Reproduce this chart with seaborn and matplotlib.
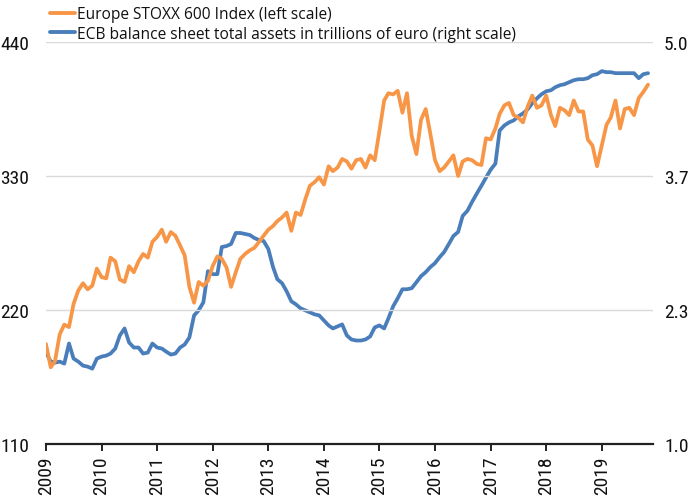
import numpy as np
import pandas as pd
import matplotlib
matplotlib.use("Agg")
import matplotlib.pyplot as plt
import matplotlib.dates as mdates
from matplotlib import font_manager
from matplotlib.lines import Line2D
import seaborn as sns

# Monthly data, Jan 2009 - Nov 2019
start_month = "2009-01-01"
stoxx = [192, 173, 178, 200, 208, 206, 225, 236, 242, 237, 240, 254,
         247, 246, 263, 260, 245, 243, 256, 251, 260, 266, 263, 276,
         280, 286, 276, 284, 281, 273, 265, 239, 226, 243, 240, 244,
         256, 264, 262, 255, 239, 251, 262, 266, 269, 271, 276, 281,
         286, 289, 293, 296, 300, 285, 300, 298, 311, 322, 325, 329,
         323, 338, 334, 337, 344, 342, 336, 343, 344, 337, 347, 343,
         367, 392, 398, 397, 400, 382, 398, 363, 348, 376, 385, 365,
         343, 334, 337, 342, 347, 330, 342, 344, 343, 340, 339, 361,
         360, 369, 381, 388, 390, 380, 378, 374, 387, 396, 386, 388,
         396, 380, 371, 386, 384, 380, 392, 383, 383, 360, 355, 338,
         355, 372, 378, 392, 369, 385, 386, 380, 394, 399, 405]
ecb = [1.91, 1.82, 1.81, 1.82, 1.80, 2.00, 1.85, 1.82, 1.78, 1.77, 1.75, 1.85,
       1.87, 1.88, 1.90, 1.95, 2.08, 2.15, 2.01, 1.96, 1.96, 1.90, 1.91, 2.00,
       1.96, 1.95, 1.92, 1.89, 1.90, 1.96, 1.99, 2.06, 2.28, 2.33, 2.41, 2.72,
       2.69, 2.69, 2.96, 2.97, 2.99, 3.10, 3.10, 3.09, 3.08, 3.05, 3.03, 3.02,
       2.94, 2.76, 2.64, 2.60, 2.52, 2.42, 2.39, 2.35, 2.33, 2.31, 2.29, 2.28,
       2.23, 2.18, 2.15, 2.17, 2.19, 2.08, 2.04, 2.03, 2.03, 2.04, 2.07, 2.16,
       2.18, 2.15, 2.25, 2.37, 2.45, 2.54, 2.54, 2.55, 2.61, 2.67, 2.71, 2.76,
       2.80, 2.86, 2.91, 2.99, 3.07, 3.11, 3.27, 3.32, 3.41, 3.49, 3.57, 3.65,
       3.73, 3.79, 4.12, 4.17, 4.20, 4.22, 4.26, 4.29, 4.33, 4.39, 4.44, 4.48,
       4.51, 4.52, 4.55, 4.57, 4.58, 4.60, 4.62, 4.63, 4.63, 4.64, 4.67, 4.68,
       4.71, 4.70, 4.70, 4.69, 4.69, 4.69, 4.69, 4.69, 4.64, 4.68, 4.69]
left_ticks = [110, 220, 330, 440]
right_ticks = [1.0, 2.0 + 1/3, 3.0 + 2/3, 5.0]
right_labels = ["1.0", "2.3", "3.7", "5.0"]
label_stoxx = "Europe STOXX 600 Index (left scale)"
label_ecb = "ECB balance sheet total assets in trillions of euro (right scale)"

dates = pd.date_range(start_month, periods=len(stoxx), freq="MS")
df = pd.DataFrame({"date": dates, "stoxx": stoxx, "ecb": ecb})

sns.set_theme(style="white")
installed = {f.name for f in font_manager.fontManager.ttflist}
narrow = None
for cand in ["Liberation Sans Narrow", "Roboto Condensed", "Open Sans Condensed",
             "DejaVu Sans Condensed"]:
    if cand in installed:
        narrow = cand
        break
if narrow is None:
    tick_prop = {"family": ["Liberation Sans", "DejaVu Sans"]}
    tick_size = 13
else:
    tick_prop = {"family": [narrow, "DejaVu Sans"]}
    tick_size = 14
plt.rcParams["font.family"] = tick_prop["family"]
leg_font = ["Open Sans", "DejaVu Sans"]

ORANGE = "#F79646"
BLUE = "#4A7EBB"

fig = plt.figure(figsize=(6.92, 5.02), dpi=100)
ax = fig.add_axes([0.0665, 0.1135, 0.877, 0.8008])
ax2 = ax.twinx()

sns.lineplot(data=df, x="date", y="stoxx", ax=ax, color=ORANGE, linewidth=2.7)
sns.lineplot(data=df, x="date", y="ecb", ax=ax2, color=BLUE, linewidth=2.7)
ax.set_zorder(ax2.get_zorder() + 1)
ax.patch.set_visible(False)

ax.set_ylim(110, 440)
ax2.set_ylim(1.0, 5.0)
ax.set_xlim(pd.Timestamp("2009-01-01"), pd.Timestamp("2019-12-03"))

ax.set_yticks(left_ticks)
ax.set_yticklabels([str(t) for t in left_ticks])
ax2.set_yticks(right_ticks)
ax2.set_yticklabels(right_labels)
ax.yaxis.grid(True, color="#D9D9D9", linewidth=1.0)
ax.set_axisbelow(True)

ax.xaxis.set_major_locator(mdates.YearLocator())
ax.xaxis.set_major_formatter(mdates.DateFormatter("%Y"))
for lbl in ax.get_xticklabels():
    lbl.set_rotation(90)

for a in (ax, ax2):
    for s in ("top", "right", "left", "bottom"):
        a.spines[s].set_visible(False)
    a.set_xlabel("")
    a.set_ylabel("")
ax.spines["bottom"].set_visible(True)
ax.spines["bottom"].set_color("#222222")
ax.spines["bottom"].set_linewidth(1.6)

ax.tick_params(axis="x", which="major", direction="out", length=5, width=1.4,
               color="#222222", labelsize=tick_size, pad=3, labelcolor="#111111", bottom=True)
ax.tick_params(axis="y", length=0, labelsize=tick_size, pad=12, labelcolor="#111111")
ax2.tick_params(axis="y", length=0, labelsize=tick_size, pad=8, labelcolor="#111111")

handles = [Line2D([0], [0], color=ORANGE, lw=2.8), Line2D([0], [0], color=BLUE, lw=2.8)]
leg = fig.legend(handles, [label_stoxx, label_ecb], loc="upper left",
                 bbox_to_anchor=(0.052, 1.014), frameon=False, handlelength=1.6,
                 handletextpad=0.15, labelspacing=0.25, prop={"family": leg_font, "size": 11.2})
for t in leg.get_texts():
    t.set_color("#111111")

fig.savefig("out.png", dpi=100)
